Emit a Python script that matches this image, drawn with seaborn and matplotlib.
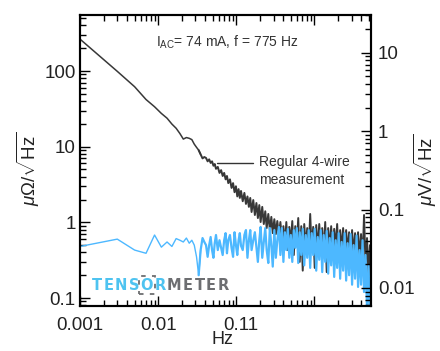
import matplotlib
matplotlib.use("Agg")
import matplotlib.pyplot as plt
import matplotlib.transforms as mtransforms
from matplotlib.ticker import FixedLocator, LogLocator, NullFormatter
from matplotlib.offsetbox import TextArea, HPacker, AnchoredOffsetbox
import pandas as pd
import seaborn as sns

# ---------------- data ----------------
freq_low = [0.001, 0.003, 0.005, 0.007, 0.009, 0.011, 0.013, 0.015, 0.017, 0.019,
            0.021, 0.023, 0.025, 0.027, 0.029, 0.031, 0.033]
dark_low = [264, 99, 62, 42, 33.7, 27.5, 23.8, 19.9, 17.5, 14.9,
            12.6, 13.2, 12.9, 12.4, 10.8, 9.8, 9.0]
blue_low = [0.48, 0.60, 0.43, 0.39, 0.68, 0.47, 0.55, 0.48, 0.61, 0.58,
            0.55, 0.62, 0.53, 0.58, 0.50, 0.35, 0.20]

freq_hi = [0.035, 0.037, 0.039, 0.041, 0.043, 0.045, 0.047, 0.049, 0.051, 0.053,
           0.055, 0.058, 0.061, 0.064, 0.067, 0.070, 0.073, 0.076, 0.079, 0.083,
           0.087, 0.091, 0.095, 0.099, 0.103, 0.107, 0.111, 0.115, 0.121, 0.127,
           0.133, 0.139, 0.145, 0.151, 0.157, 0.165, 0.173, 0.181, 0.189, 0.197,
           0.205, 0.215, 0.225, 0.235, 0.245, 0.257, 0.269, 0.281, 0.293, 0.307,
           0.321, 0.335, 0.351, 0.367, 0.383, 0.401, 0.419, 0.437, 0.457, 0.477,
           0.499, 0.521, 0.545, 0.569, 0.595, 0.621, 0.649, 0.679, 0.709, 0.741,
           0.775, 0.809, 0.845, 0.883, 0.923, 0.965, 1.009, 1.055, 1.103, 1.153,
           1.205, 1.259, 1.315, 1.375, 1.437, 1.501, 1.569, 1.639, 1.713, 1.791,
           1.871, 1.955, 2.043, 2.135, 2.231, 2.331, 2.437, 2.547, 2.661, 2.781,
           2.905, 3.035, 3.171, 3.315, 3.465, 3.621, 3.783, 3.953, 4.131, 4.317,
           4.511, 4.715, 4.927, 5.149, 5.381]
dark_hi = [7.9, 7.0, 7.3, 7.1, 6.4, 6.8, 6.1, 6.4, 5.6, 5.9,
           5.1, 5.4, 4.5, 4.9, 4.1, 4.5, 3.7, 4.1, 3.3, 3.7,
           2.85, 3.3, 2.5, 3.0, 2.2, 2.75, 2.1, 2.6, 1.9, 2.45,
           1.75, 2.2, 1.6, 2.1, 1.37, 1.97, 1.25, 1.8, 1.14, 1.69,
           1.01, 1.6, 0.95, 1.4, 0.84, 1.29, 0.79, 1.18, 0.72, 1.1,
           0.70, 1.04, 0.66, 1.01, 0.62, 0.89, 0.50, 1.01, 0.43, 0.87,
           0.55, 1.04, 0.37, 0.89, 0.50, 1.14, 0.30, 0.89, 0.23, 0.95,
           0.46, 0.84, 0.40, 1.29, 0.43, 0.87, 0.25, 0.92, 0.43, 0.95,
           0.50, 0.84, 0.37, 1.01, 0.22, 0.84, 0.43, 0.89, 0.34, 0.82,
           0.46, 0.95, 0.32, 0.79, 0.43, 0.84, 0.37, 0.79, 0.40, 0.74,
           0.34, 0.79, 0.37, 0.72, 0.30, 0.74, 0.34, 0.70, 0.30, 1.25,
           0.27, 0.62, 0.20, 0.50, 0.16]
blue_hi = [0.43, 0.62, 0.55, 0.50, 0.35, 0.50, 0.64, 0.43, 0.34, 0.53,
           0.68, 0.43, 0.58, 0.46, 0.37, 0.58, 0.72, 0.39, 0.58, 0.68,
           0.46, 0.35, 0.74, 0.50, 0.37, 0.58, 0.72, 0.49, 0.43, 0.68,
           0.79, 0.34, 0.58, 0.79, 0.43, 0.58, 0.74, 0.47, 0.30, 0.58,
           0.87, 0.34, 0.55, 0.84, 0.43, 0.29, 0.84, 0.50, 0.26, 0.79,
           0.34, 0.58, 0.87, 0.37, 0.84, 0.30, 0.74, 0.43, 0.82, 0.34,
           0.68, 0.30, 0.79, 0.46, 0.84, 0.29, 0.74, 0.37, 0.82, 0.27,
           0.68, 0.34, 0.79, 0.25, 0.72, 0.37, 0.82, 0.23, 0.64, 0.32,
           0.79, 0.22, 0.68, 0.30, 0.77, 0.21, 0.62, 0.27, 0.74, 0.19,
           0.58, 0.25, 0.72, 0.18, 0.55, 0.23, 0.72, 0.17, 0.53, 0.20,
           0.70, 0.15, 0.50, 0.18, 0.67, 0.14, 0.43, 0.15, 0.58, 0.12,
           0.37, 0.07, 0.27, 0.06, 0.15]

x_ticks = [0.001, 0.01, 0.1, 1]
x_ticklabels = ["0.001", "0.01", "0.11", ""]
yl_ticks = [0.1, 1, 10, 100]
yl_ticklabels = ["0.1", "1", "10", "100"]
yr_ticks = [0.01, 0.1, 1, 10]
yr_ticklabels = ["0.01", "0.1", "1", "10"]
logo_letters = ["T", "E", "N", "S", "O", "R", "M", "E", "T", "E", "R"]

freq = freq_low + freq_hi
dark = dark_low + dark_hi
blue = blue_low + blue_hi
df = pd.DataFrame({"freq": freq, "dark": dark, "blue": blue})
n_low = len(freq_low)
df_low = df.iloc[:n_low + 1]
df_hi = df.iloc[n_low - 1:]

# ---------------- style ----------------
sns.set_theme(style="ticks")
plt.rcParams["font.family"] = ["Liberation Sans", "DejaVu Sans"]
plt.rcParams["mathtext.fontset"] = "custom"
plt.rcParams["mathtext.rm"] = "Liberation Sans"
plt.rcParams["mathtext.it"] = "Liberation Sans:italic"
plt.rcParams["mathtext.bf"] = "Liberation Sans:bold"

DARK = "#383838"
BLUE = "#4db8ff"
TXT = "#222222"

fig = plt.figure(figsize=(4.4, 3.51), dpi=100)
fig.patch.set_facecolor("white")
ax = fig.add_axes([80 / 440, 1 - 306 / 351, 291 / 440, 291 / 351])
ax.set_facecolor("white")

sns.lineplot(data=df_low, x="freq", y="dark", ax=ax, color=DARK, lw=1.1,
             sort=False, estimator=None, legend=False)
sns.lineplot(data=df_hi, x="freq", y="dark", ax=ax, color=DARK, lw=1.4,
             sort=False, estimator=None, legend=False)
sns.lineplot(data=df_low, x="freq", y="blue", ax=ax, color=BLUE, lw=1.0,
             sort=False, estimator=None, legend=False)
sns.lineplot(data=df_hi, x="freq", y="blue", ax=ax, color=BLUE, lw=1.6,
             sort=False, estimator=None, legend=False)

ax.set_xscale("log")
ax.set_yscale("log")
ax.set_xlim(0.001, 5.3)
ax.set_ylim(0.0784, 550)

ax.xaxis.set_major_locator(FixedLocator(x_ticks))
ax.set_xticklabels(x_ticklabels)
ax.xaxis.set_minor_locator(LogLocator(base=10, subs=range(2, 10), numticks=30))
ax.xaxis.set_minor_formatter(NullFormatter())
ax.yaxis.set_major_locator(FixedLocator(yl_ticks))
ax.set_yticklabels(yl_ticklabels)
ax.yaxis.set_minor_locator(LogLocator(base=10, subs=range(2, 10), numticks=30))
ax.yaxis.set_minor_formatter(NullFormatter())

ax.tick_params(which="both", direction="in", top=True, right=False,
               color="black", labelcolor=TXT, labelsize=13.5)
ax.tick_params(which="major", length=7, width=1.0)
ax.tick_params(which="minor", length=4, width=1.0)
ax.tick_params(axis="x", which="major", pad=8)
ax.tick_params(axis="y", which="major", pad=3)

ax.set_xlabel("Hz", fontsize=13, color=TXT)
ax.xaxis.set_label_coords(0.49, -0.086)
ax.set_ylabel(r"$\mu\Omega/\sqrt{\mathrm{Hz}}$", fontsize=13.5, color=TXT)
ax.yaxis.set_label_coords(-0.131, 0.47)

# right axis
ax2 = ax.twinx()
ax2.set_yscale("log")
ax2.set_ylim(0.00589, 30.3)
ax2.yaxis.set_major_locator(FixedLocator(yr_ticks))
ax2.set_yticklabels(yr_ticklabels)
ax2.yaxis.set_minor_locator(LogLocator(base=10, subs=range(2, 10), numticks=30))
ax2.yaxis.set_minor_formatter(NullFormatter())
ax2.tick_params(which="both", direction="in", color="black", labelcolor=TXT,
                labelsize=13.5)
ax2.tick_params(which="major", length=7, width=1.0, pad=5)
ax2.tick_params(which="minor", length=4, width=1.0)
ax2.set_ylabel(r"$\mu\mathrm{V}/\sqrt{\mathrm{Hz}}$", fontsize=13.5, color=TXT,
               rotation=90)
ax2.yaxis.set_label_coords(1.14, 0.47)

for a in (ax, ax2):
    for s in a.spines.values():
        s.set_color("black")
        s.set_linewidth(1.5)

# shift the "0.11" label a bit to the right like the reference
for lab in ax.xaxis.get_majorticklabels():
    if lab.get_text() == "0.11":
        lab.set_transform(lab.get_transform() +
                          mtransforms.ScaledTranslation(0.05, 0, fig.dpi_scale_trans))

# texts
ax.text(0.505, 0.907, r"$\mathrm{I}_{\mathrm{AC}}$= 74 mA, f = 775 Hz",
        transform=ax.transAxes, ha="center", va="center", fontsize=10, color="#333333")
ax.plot([0.471, 0.595], [0.491, 0.491], transform=ax.transAxes, color="#333333", lw=1.0)
ax.text(0.615, 0.495, "Regular 4-wire", transform=ax.transAxes, ha="left",
        va="center", fontsize=10, color="#333333")
ax.text(0.615, 0.433, "measurement", transform=ax.transAxes, ha="left",
        va="center", fontsize=10, color="#333333")

# logo
LOGO_BLUE = "#4ec3f0"
LOGO_GRAY = "#6d6e71"
boxes = []
for i, ch in enumerate(logo_letters):
    col = LOGO_BLUE if i < 6 else LOGO_GRAY
    props = dict(color=col, fontsize=10.5, family="DejaVu Sans", fontweight="bold")
    if i == 4:
        props["bbox"] = dict(boxstyle="square,pad=0.12", fc="none", ec=LOGO_GRAY,
                             lw=1.3, ls=(0, (2.5, 3.5)))
    boxes.append(TextArea(ch, textprops=props))
pack = HPacker(children=boxes, align="center", pad=0, sep=1.0)
anch = AnchoredOffsetbox(loc="center left", child=pack, pad=0, borderpad=0,
                         frameon=False, bbox_to_anchor=(0.041, 0.072),
                         bbox_transform=ax.transAxes)
ax.add_artist(anch)

fig.savefig("out.png", dpi=100, facecolor="white")
